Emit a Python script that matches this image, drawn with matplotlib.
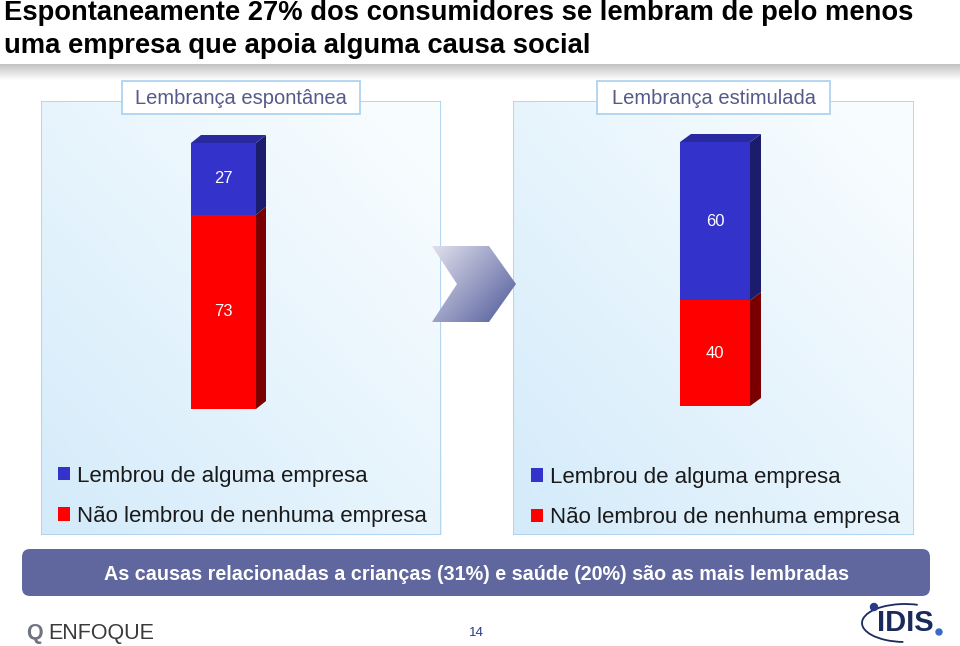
import numpy as np
import matplotlib.pyplot as plt
from matplotlib.patches import Polygon, Rectangle, FancyBboxPatch, Ellipse, Arc

plt.rcParams['font.family'] = ['Liberation Sans', 'DejaVu Sans']

# data
panel_titles = ['Lembrança espontânea', 'Lembrança estimulada']
series_labels = ['Lembrou de alguma empresa', 'Não lembrou de nenhuma empresa']
lembrou = [27, 60]
nao_lembrou = [73, 40]

title = ('Espontaneamente 27% dos consumidores se lembram de pelo menos\n'
         'uma empresa que apoia alguma causa social')
banner = 'As causas relacionadas a crianças (31%) e saúde (20%) são as mais lembradas'
page = '14'

W, H = 960, 646
fig = plt.figure(figsize=(W / 100, H / 100), dpi=100)
fig.patch.set_facecolor('white')


def px_axes(x0, y0, x1, y1, **kw):
    return fig.add_axes([x0 / W, 1 - y1 / H, (x1 - x0) / W, (y1 - y0) / H], **kw)


blue, blue_side, blue_top = '#3333cc', '#1c1c6c', '#2a2aa0'
red, red_side, red_top = '#ff0000', '#7a0000', '#c00000'

# panel geometry (pixels): box, bar front x-range, bar top/bottom pixel
panels = [
    dict(box=(41, 101, 441, 535), bar=(191, 256), top=143, bottom=409, depth=10,
         leg=(0.0425, 0.16)),
    dict(box=(513, 101, 914, 535), bar=(680, 750), top=142, bottom=406, depth=11,
         leg=(0.045, 0.157)),
]

for i, p in enumerate(panels):
    x0, y0, x1, y1 = p['box']
    ppu = (p['bottom'] - p['top']) / 100.0
    ax = px_axes(x0, y0, x1, y1)
    ax.set_xlim(0, 1)
    ax.set_ylim(-(y1 - p['bottom']) / ppu, 100 + (p['top'] - y0) / ppu)
    ax.axis('off')

    # gradient background
    gx, gy = np.meshgrid(np.linspace(0, 1, 200), np.linspace(0, 1, 200))
    t = np.clip(0.55 * gx + 0.55 * (1 - gy), 0, 1)
    c0 = np.array([0.83, 0.92, 0.98])
    c1 = np.array([0.97, 0.99, 1.0])
    img = c0[None, None, :] * (1 - t[..., None]) + c1[None, None, :] * t[..., None]
    ax.imshow(img, extent=(0, 1, 0, 1), transform=ax.transAxes, aspect='auto',
              origin='upper', zorder=0)
    ax.add_patch(Rectangle((0, 0), 1, 1, transform=ax.transAxes, fill=False,
                           edgecolor='#a9d0ef', lw=1.2, zorder=1))

    bx0, bx1 = p['bar']
    xc = ((bx0 + bx1) / 2 - x0) / (x1 - x0)
    bw = (bx1 - bx0) / (x1 - x0)
    dx = p['depth'] / (x1 - x0)
    dy = 8 / ppu

    b_red = ax.bar(xc, nao_lembrou[i], width=bw, color=red, zorder=3)
    b_blue = ax.bar(xc, lembrou[i], width=bw, bottom=nao_lembrou[i], color=blue, zorder=3)

    # 3D side and top faces
    r = xc + bw / 2
    l = xc - bw / 2
    seg = [(0, nao_lembrou[i], red_side), (nao_lembrou[i], nao_lembrou[i] + lembrou[i], blue_side)]
    for lo, hi, col in seg:
        ax.add_patch(Polygon([(r, lo), (r + dx, lo + dy), (r + dx, hi + dy), (r, hi)],
                             closed=True, facecolor=col, edgecolor='none', zorder=2))
    total = nao_lembrou[i] + lembrou[i]
    ax.add_patch(Polygon([(l, total), (l + dx, total + dy), (r + dx, total + dy), (r, total)],
                         closed=True, facecolor=blue_top, edgecolor='none', zorder=2))

    ax.text(xc, nao_lembrou[i] / 2, str(nao_lembrou[i]), color='white', fontsize=12,
            ha='center', va='center', zorder=4)
    ax.text(xc, nao_lembrou[i] + lembrou[i] / 2, str(lembrou[i]), color='white', fontsize=12,
            ha='center', va='center', zorder=4)

    ax.legend([b_blue, b_red], series_labels, loc='upper left', bbox_to_anchor=p['leg'],
              frameon=False, fontsize=16, handlelength=0.55, handleheight=0.55,
              handletextpad=0.3, labelspacing=0.87, borderaxespad=0, borderpad=0,
              labelcolor='#1a1a1a')

# overlay decorations in pixel coordinates
ov = fig.add_axes([0, 0, 1, 1], zorder=10)
ov.set_xlim(0, W)
ov.set_ylim(H, 0)
ov.axis('off')
ov.patch.set_alpha(0)

# title
ov.text(4, 29.5, title, fontsize=19.7, fontweight='bold', ha='left', va='center',
        color='black', linespacing=1.32)

# grey shadow band under title
band = np.linspace(0.76, 1.0, 50)[:, None] * np.ones((1, 2))
band = np.dstack([band, band, band])
ov.imshow(band, extent=(0, W, 80, 64), aspect='auto', zorder=1)

# panel title boxes
for (bx0, bx1), txt in zip([(122, 360), (597, 830)], panel_titles):
    ov.add_patch(Rectangle((bx0, 81), bx1 - bx0, 33, facecolor='white',
                           edgecolor='#a9d0ef', lw=1.2, zorder=3))
    ov.text((bx0 + bx1) / 2, 98, txt, fontsize=14.5, color='#555a88', ha='center',
            va='center', zorder=4)

# chevron arrow with gradient
chev = [(432, 246), (489, 246), (516, 284), (489, 322), (432, 322), (457, 284)]
gx, gy = np.meshgrid(np.linspace(0, 1, 100), np.linspace(0, 1, 100))
t = np.clip(0.6 * gx + 0.5 * gy, 0, 1)
ca = np.array([0.88, 0.88, 0.93])
cb = np.array([0.36, 0.40, 0.63])
cimg = ca[None, None, :] * (1 - t[..., None]) + cb[None, None, :] * t[..., None]
im = ov.imshow(cimg, extent=(432, 516, 322, 246), aspect='auto', zorder=5)
cpoly = Polygon(chev, closed=True, facecolor='none', edgecolor='none')
ov.add_patch(cpoly)
im.set_clip_path(cpoly)

# bottom banner
ov.add_patch(FancyBboxPatch((22, 549), 908, 47, boxstyle='round,pad=0,rounding_size=8',
                            facecolor='#5f679e', edgecolor='none', zorder=3))
ov.text(476, 574, banner, fontsize=14.2, fontweight='bold', color='white',
        ha='center', va='center', zorder=4)

# page number
ov.text(476, 633, page, fontsize=9.5, color='#2a3a8a', ha='center', va='center')

# ENFOQUE logo
ov.text(26, 634, 'Q', fontsize=15.5, fontweight='bold', color='#6f7480', ha='left', va='center')
ov.text(48, 634, 'ENFOQUE', fontsize=15.5, color='#3a3a3a', ha='left', va='center')

# IDIS logo
ov.add_patch(Arc((905, 623), 86, 38, theta1=95, theta2=305, color='#1a2a5a', lw=1.3))
ov.add_patch(Ellipse((874, 607), 7, 7, color='#2a3a8a'))
ov.text(905, 623, 'IDIS', fontsize=21, fontweight='bold', color='#1a2a5a',
        ha='center', va='center')
ov.add_patch(Ellipse((939, 632), 6, 6, color='#3a6ac8'))

fig.savefig('out.png', dpi=100, facecolor='white')
